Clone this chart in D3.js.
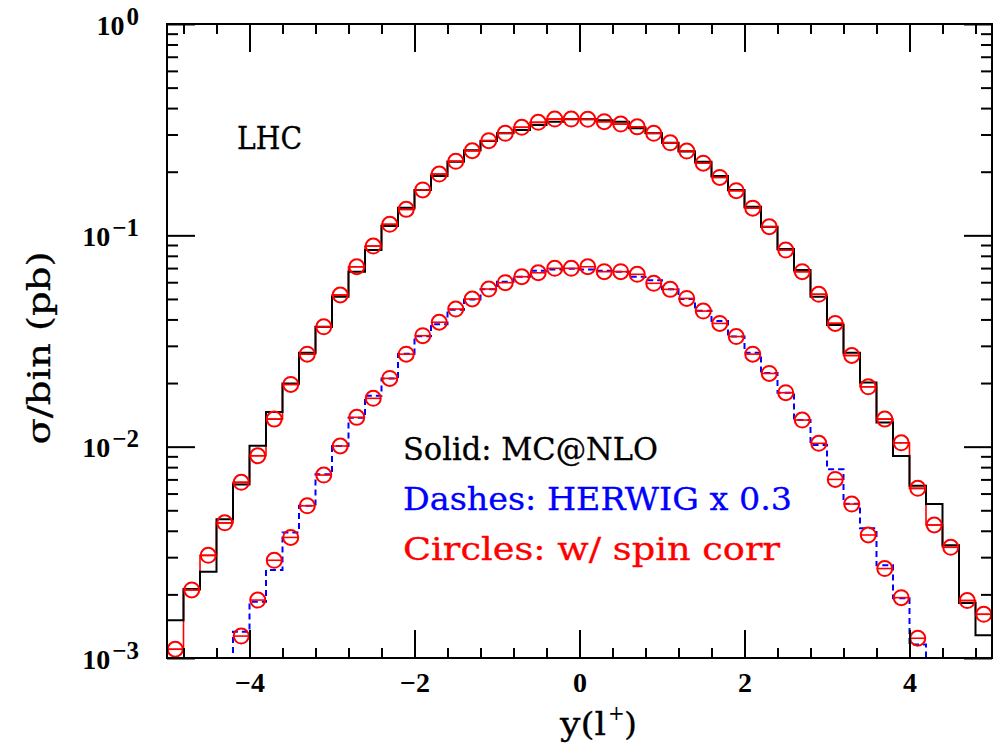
<!DOCTYPE html>
<html>
<head>
<meta charset="utf-8">
<script src="https://cdn.jsdelivr.net/npm/d3@7"></script>
<style>
  body { margin: 0; background: #fff; }
  svg { display: block; }
</style>
</head>
<body>
<div id="chart"></div>
<script>
// histogram bins: 50 bins of width 0.2 from -5 to 5
const binWidth = 0.2;
const binLo = d3.range(50).map(i => -5 + binWidth * i);

// MC@NLO (solid black)
const mcnlo = [
  0.00151, 0.00212, 0.00256, 0.00454, 0.00663, 0.0101, 0.0146, 0.0199, 0.0278, 0.0369,
  0.0512, 0.0673, 0.0852, 0.1107, 0.135, 0.1638, 0.191, 0.223, 0.253, 0.2795,
  0.304, 0.315, 0.333, 0.345, 0.354, 0.354, 0.350, 0.345, 0.321, 0.304,
  0.274, 0.249, 0.223, 0.191, 0.164, 0.1366, 0.1098, 0.0861, 0.0685, 0.0512,
  0.0376, 0.0278, 0.0201, 0.0130, 0.00903, 0.00653, 0.00535, 0.00342, 0.00182, 0.00128
];
// MC@NLO with spin correlations (red circles)
const mcnloSpin = [
  0.00110, 0.00210, 0.00306, 0.00436, 0.00678, 0.00906, 0.0135, 0.0197, 0.0274, 0.0369,
  0.0522, 0.0710, 0.0890, 0.1127, 0.1327, 0.164, 0.195, 0.224, 0.2514, 0.2805,
  0.304, 0.3245, 0.3425, 0.355, 0.355, 0.354, 0.345, 0.336, 0.326, 0.304,
  0.274, 0.2505, 0.2194, 0.188, 0.1626, 0.1345, 0.1098, 0.0852, 0.0673, 0.0526,
  0.0383, 0.0270, 0.0192, 0.0135, 0.01043, 0.00635, 0.00426, 0.00334, 0.00187, 0.00161
];
// HERWIG x 0.3 (blue dashes); null = below the plotted range
const herwig = [
  null, null, null, null, 0.00133, 0.001845, 0.00261, 0.00393, 0.00525, 0.0074,
  0.01007, 0.0137, 0.0174, 0.0210, 0.0275, 0.0333, 0.0380, 0.0445, 0.0497, 0.0555,
  0.0603, 0.0637, 0.0679, 0.0690, 0.0695, 0.0690, 0.0680, 0.0673, 0.0637, 0.0613,
  0.0555, 0.0500, 0.0440, 0.0393, 0.0332, 0.0278, 0.0223, 0.0180, 0.01336, 0.01019,
  0.00781, 0.00537, 0.00411, 0.00275, 0.00192, 0.00116, null, null, null, null
];
// HERWIG with spin correlations (red circles)
const herwigSpin = [
  null, null, null, null, 0.00127, 0.00188, 0.00290, 0.00372, 0.00525, 0.00734,
  0.01007, 0.01376, 0.01693, 0.02104, 0.0274, 0.0335, 0.0388, 0.0448, 0.04996, 0.0557,
  0.0597, 0.0637, 0.0665, 0.0698, 0.0698, 0.0710, 0.0673, 0.0673, 0.0654, 0.0593,
  0.0555, 0.0503, 0.0438, 0.0383, 0.0332, 0.0274, 0.0222, 0.0180, 0.01336, 0.01037,
  0.0070, 0.00535, 0.00382, 0.00265, 0.00193, 0.00124, null, null, null, null
];

const xMajor = [-4, -2, 0, 2, 4];
const xMinor = [-4.8, -4.4, -3.6, -3.2, -2.8, -2.4, -1.6, -1.2, -0.8, -0.4,
                0.4, 0.8, 1.2, 1.6, 2.4, 2.8, 3.2, 3.6, 4.4, 4.8];
const yMajor = [1e-3, 1e-2, 1e-1, 1];
const yExp = ["−3", "−2", "−1", "0"];
const legendLines = ["Solid: MC@NLO", "Dashes: HERWIG x 0.3", "Circles: w/ spin corr"];
const legendColors = ["#000", "#0000ff", "#ff0000"];
const legendWidths = [255, 389, 377];

const W = 1000, H = 745;
const mLeft = 167, mRight = 992, mTop = 24, mBottom = 658;

const svg = d3.select("#chart").append("svg")
  .attr("width", W).attr("height", H);

const x = d3.scaleLinear().domain([-5, 5]).range([mLeft, mRight]);
const y = d3.scaleLog().domain([1e-3, 1]).range([mBottom, mTop]);

let yMinor = [];
yMajor.slice(0, 3).forEach(d => { for (let k = 2; k <= 9; k++) yMinor.push(d * k); });

svg.append("clipPath").attr("id", "clip")
  .append("rect").attr("x", mLeft).attr("y", mTop)
  .attr("width", mRight - mLeft).attr("height", mBottom - mTop);

const plot = svg.append("g").attr("clip-path", "url(#clip)");

// step path through the non-null bins, starting and ending at the bottom
function stepPoints(vals) {
  const pts = [];
  let first = -1, last = -1;
  vals.forEach((v, i) => {
    if (v == null) return;
    if (first < 0) first = i;
    last = i;
    pts.push([x(binLo[i]), y(v)], [x(binLo[i] + binWidth), y(v)]);
  });
  pts.unshift([x(binLo[first]), mBottom + 5]);
  pts.push([x(binLo[last] + binWidth), mBottom + 5]);
  return pts;
}
const line = d3.line();

plot.append("path").attr("d", line(stepPoints(mcnloSpin)))
  .attr("fill", "none").attr("stroke", "#ff0000").attr("stroke-width", 1.6);

plot.append("path").attr("d", line(stepPoints(mcnlo)))
  .attr("fill", "none").attr("stroke", "#000").attr("stroke-width", 2);

plot.append("path").attr("d", line(stepPoints(herwig)))
  .attr("fill", "none").attr("stroke", "#0000ff").attr("stroke-width", 2)
  .attr("stroke-dasharray", "6,4");

const r = 7.5;
[mcnloSpin, herwigSpin].forEach(series => {
  const pts = series.map((v, i) => ({ v, c: binLo[i] + binWidth / 2 })).filter(d => d.v != null);
  const g = plot.append("g").selectAll("g").data(pts).enter().append("g")
    .attr("transform", d => `translate(${x(d.c)},${y(d.v)})`);
  g.append("circle").attr("r", r)
    .attr("fill", "none").attr("stroke", "#ff0000").attr("stroke-width", 2);
  g.append("line").attr("x1", -r).attr("x2", r)
    .attr("stroke", "#ff0000").attr("stroke-width", 1.6);
});

// frame
svg.append("rect").attr("x", mLeft).attr("y", mTop)
  .attr("width", mRight - mLeft).attr("height", mBottom - mTop)
  .attr("fill", "none").attr("stroke", "#000").attr("stroke-width", 2);

function styleAxis(g) {
  g.select(".domain").remove();
  g.selectAll(".tick line").attr("stroke", "#000").attr("stroke-width", 2);
}

const labelFont = "'Liberation Serif', serif";

// x axes
svg.append("g").attr("transform", `translate(0,${mBottom})`)
  .call(d3.axisBottom(x).tickValues(xMajor).tickSizeInner(-28).tickSizeOuter(0).tickPadding(14))
  .call(styleAxis)
  .call(g => g.selectAll(".tick text")
    .style("font-family", labelFont).style("font-weight", "bold")
    .style("font-size", "28px").attr("fill", "#000"));
svg.append("g").attr("transform", `translate(0,${mBottom})`)
  .call(d3.axisBottom(x).tickValues(xMinor).tickSizeInner(-10).tickSizeOuter(0).tickFormat(""))
  .call(styleAxis);
svg.append("g").attr("transform", `translate(0,${mTop})`)
  .call(d3.axisTop(x).tickValues(xMajor).tickSizeInner(-28).tickSizeOuter(0).tickFormat(""))
  .call(styleAxis);
svg.append("g").attr("transform", `translate(0,${mTop})`)
  .call(d3.axisTop(x).tickValues(xMinor).tickSizeInner(-10).tickSizeOuter(0).tickFormat(""))
  .call(styleAxis);

// y axes
svg.append("g").attr("transform", `translate(${mLeft},0)`)
  .call(d3.axisLeft(y).tickValues(yMajor).tickSizeInner(-28).tickSizeOuter(0).tickPadding(28).tickFormat(""))
  .call(styleAxis)
  .call(g => g.selectAll(".tick text").each(function(d, i) {
    const t = d3.select(this)
      .style("font-family", labelFont).style("font-weight", "bold")
      .attr("fill", "#000").attr("dy", "10");
    t.append("tspan").style("font-size", "28px").text("10");
    t.append("tspan").style("font-size", "25px").attr("dx", "2").attr("dy", "-10").text(yExp[i]);
  }));
svg.append("g").attr("transform", `translate(${mLeft},0)`)
  .call(d3.axisLeft(y).tickValues(yMinor).tickSizeInner(-11).tickSizeOuter(0).tickFormat(""))
  .call(styleAxis);
svg.append("g").attr("transform", `translate(${mRight},0)`)
  .call(d3.axisRight(y).tickValues(yMajor).tickSizeInner(-28).tickSizeOuter(0).tickFormat(""))
  .call(styleAxis);
svg.append("g").attr("transform", `translate(${mRight},0)`)
  .call(d3.axisRight(y).tickValues(yMinor).tickSizeInner(-11).tickSizeOuter(0).tickFormat(""))
  .call(styleAxis);

// serif text, stretched to the widths seen in the figure
const serif = "'DejaVu Serif', serif";
function serifText(sel, str, width, color, size) {
  return sel.append("text").text(str)
    .attr("font-family", serif).attr("font-size", size || 31)
    .attr("fill", color).attr("stroke", color).attr("stroke-width", 0.3)
    .attr("textLength", width).attr("lengthAdjust", "spacingAndGlyphs");
}

serifText(svg, "LHC", 65, "#000").attr("x", 237).attr("y", 149);

legendLines.forEach((s, i) => {
  serifText(svg, s, legendWidths[i], legendColors[i]).attr("x", 403).attr("y", 460 + i * 50);
});

serifText(svg, "σ/bin (pb)", 193, "#000")
  .attr("text-anchor", "middle")
  .attr("transform", "translate(50,348) rotate(-90)");

// x title: y(l+)
serifText(svg, "y(l", 46, "#000").attr("x", 560).attr("y", 735);
svg.append("text").text("+").attr("x", 608).attr("y", 720)
  .attr("font-family", serif).attr("font-size", 20).attr("fill", "#000");
serifText(svg, ")", 13, "#000").attr("x", 624).attr("y", 735);
</script>
</body>
</html>
